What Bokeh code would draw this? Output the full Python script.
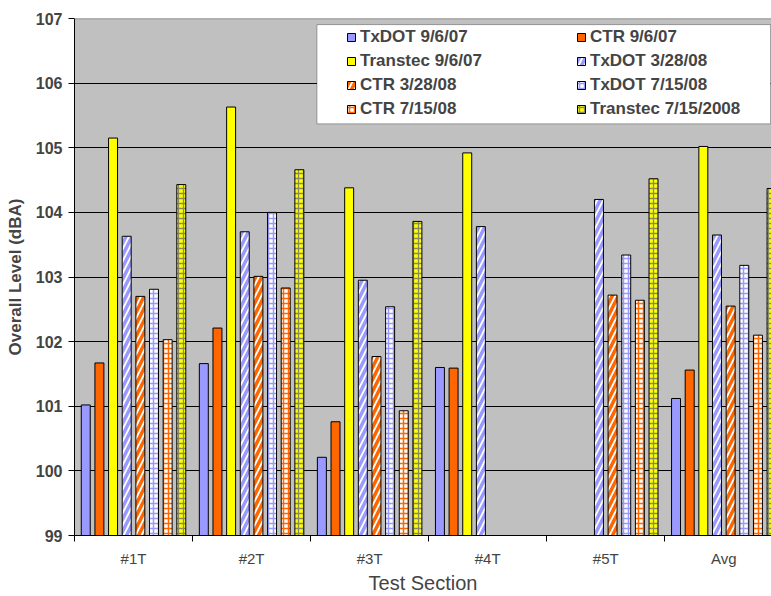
from bokeh.plotting import figure
from bokeh.models import (Range1d, FixedTicker, Legend, LegendItem,
                          BoxAnnotation, Span, ColumnDataSource)
from bokeh.embed import file_html
from bokeh.resources import INLINE

# Test sections along the x axis
sections = ["#1T", "#2T", "#3T", "#4T", "#5T", "Avg"]

# Overall level (dBA) per measurement campaign; None = not measured
txdot_090607 = [101.02, 101.66, 100.21, 101.60, None, 101.12]
ctr_090607 = [101.67, 102.21, 100.76, 101.59, None, 101.56]
transtec_090607 = [105.15, 105.63, 104.38, 104.92, None, 105.02]
txdot_032808 = [103.63, 103.70, 102.95, 103.78, 104.20, 103.65]
ctr_032808 = [102.70, 103.01, 101.77, None, 102.72, 102.55]
txdot_071508 = [102.81, 104.00, 102.54, None, 103.34, 103.18]
ctr_071508 = [102.03, 102.83, 100.93, None, 102.64, 102.10]
transtec_071508 = [104.43, 104.66, 103.86, None, 104.52, 104.37]

series_labels = ["TxDOT 9/6/07", "CTR 9/6/07", "Transtec 9/6/07",
                 "TxDOT 3/28/08", "CTR 3/28/08", "TxDOT 7/15/08",
                 "CTR 7/15/08", "Transtec 7/15/2008"]
series_values = [txdot_090607, ctr_090607, transtec_090607, txdot_032808,
                 ctr_032808, txdot_071508, ctr_071508, transtec_071508]

y_ticks = [99, 100, 101, 102, 103, 104, 105, 106, 107]

BLUE = "#9999FF"
ORANGE = "#FF6600"
YELLOW = "#FFFF00"

styles = [
    dict(fill_color=BLUE),
    dict(fill_color=ORANGE),
    dict(fill_color=YELLOW),
    dict(fill_color="white", hatch_pattern="/", hatch_color=BLUE, hatch_scale=12, hatch_weight=3.5),
    dict(fill_color="white", hatch_pattern="/", hatch_color=ORANGE, hatch_scale=12, hatch_weight=3.5),
    dict(fill_color="white", hatch_pattern="+", hatch_color=BLUE, hatch_scale=5, hatch_weight=1.5),
    dict(fill_color="white", hatch_pattern="+", hatch_color=ORANGE, hatch_scale=5, hatch_weight=1.5),
    dict(fill_color=YELLOW, hatch_pattern="+", hatch_color="#8a8a60", hatch_scale=5, hatch_weight=1.3),
]

FONT = "Liberation Sans"
n_sec = len(sections)
slot = 0.1156
bar_w = 0.076

p = figure(width=771, height=596, output_backend="svg", toolbar_location=None,
           x_range=Range1d(0, 5.904), y_range=Range1d(y_ticks[0], y_ticks[-1]),
           min_border_left=74, min_border_right=0, min_border_top=18,
           min_border_bottom=61)
p.background_fill_color = "#C0C0C0"
p.border_fill_color = "white"
p.outline_line_color = None

items = []
for k, (label, vals, st) in enumerate(zip(series_labels, series_values, styles)):
    xs, tops = [], []
    for i, v in enumerate(vals):
        if v is None:
            continue
        xs.append(i + 0.5 + (k - 3.5) * slot)
        tops.append(v)
    src = ColumnDataSource(dict(x=xs, top=tops))
    r = p.vbar(x="x", top="top", bottom=y_ticks[0], width=bar_w, source=src,
               line_color="black", line_width=1, **st)
    items.append(LegendItem(label=label, renderers=[r]))

# grid and frame edges
p.xgrid.visible = False
p.ygrid.ticker = FixedTicker(ticks=y_ticks[1:-1])
p.ygrid.grid_line_color = "black"
p.ygrid.grid_line_width = 1
p.add_layout(Span(location=y_ticks[-1], dimension="width",
                  line_color="#808080", line_width=1.5))

# y axis
ya = p.yaxis[0]
ya.ticker = FixedTicker(ticks=y_ticks)
ya.axis_label = "Overall Level (dBA)"
ya.axis_label_text_font = FONT
ya.axis_label_text_font_style = "bold"
ya.axis_label_text_font_size = "17px"
ya.axis_label_standoff = 8
ya.major_label_text_font = FONT
ya.major_label_text_font_style = "bold"
ya.major_label_text_font_size = "16px"
ya.major_label_standoff = 6
ya.major_tick_out = 6
ya.major_tick_in = 0
ya.minor_tick_out = 0
ya.minor_tick_in = 0
ya.axis_line_color = "black"

# x axis: labels centred on sections, tick marks on section boundaries
xa = p.xaxis[0]
xa.ticker = FixedTicker(ticks=[i + 0.5 for i in range(n_sec)],
                        minor_ticks=list(range(n_sec + 1)))
xa.major_label_overrides = {i + 0.5: s for i, s in enumerate(sections)}
xa.major_tick_out = 0
xa.major_tick_in = 0
xa.minor_tick_out = 6
xa.minor_tick_in = 0
xa.major_label_standoff = 8
xa.major_label_text_font = FONT
xa.major_label_text_font_size = "15px"
xa.axis_label = "Test Section"
xa.axis_label_text_font = FONT
xa.axis_label_text_font_style = "normal"
xa.axis_label_text_font_size = "20px"
xa.axis_label_standoff = 2
xa.axis_line_color = "black"

# legend box
p.add_layout(BoxAnnotation(left=2.054, right=5.896, top=106.905, bottom=105.37,
                           fill_color="white", fill_alpha=1,
                           line_color="black", line_width=1))

legend = Legend(items=items, location=(272, 416), orientation="horizontal",
                ncols=2, glyph_width=10, glyph_height=10, label_standoff=4,
                label_width=212, label_height=20, spacing=4, padding=0,
                margin=0, border_line_color=None, background_fill_alpha=0,
                label_text_font=FONT, label_text_font_style="bold",
                label_text_font_size="17px")
legend.level = "overlay"
p.add_layout(legend, "center")

open("out.html", "w").write(file_html(p, INLINE))
